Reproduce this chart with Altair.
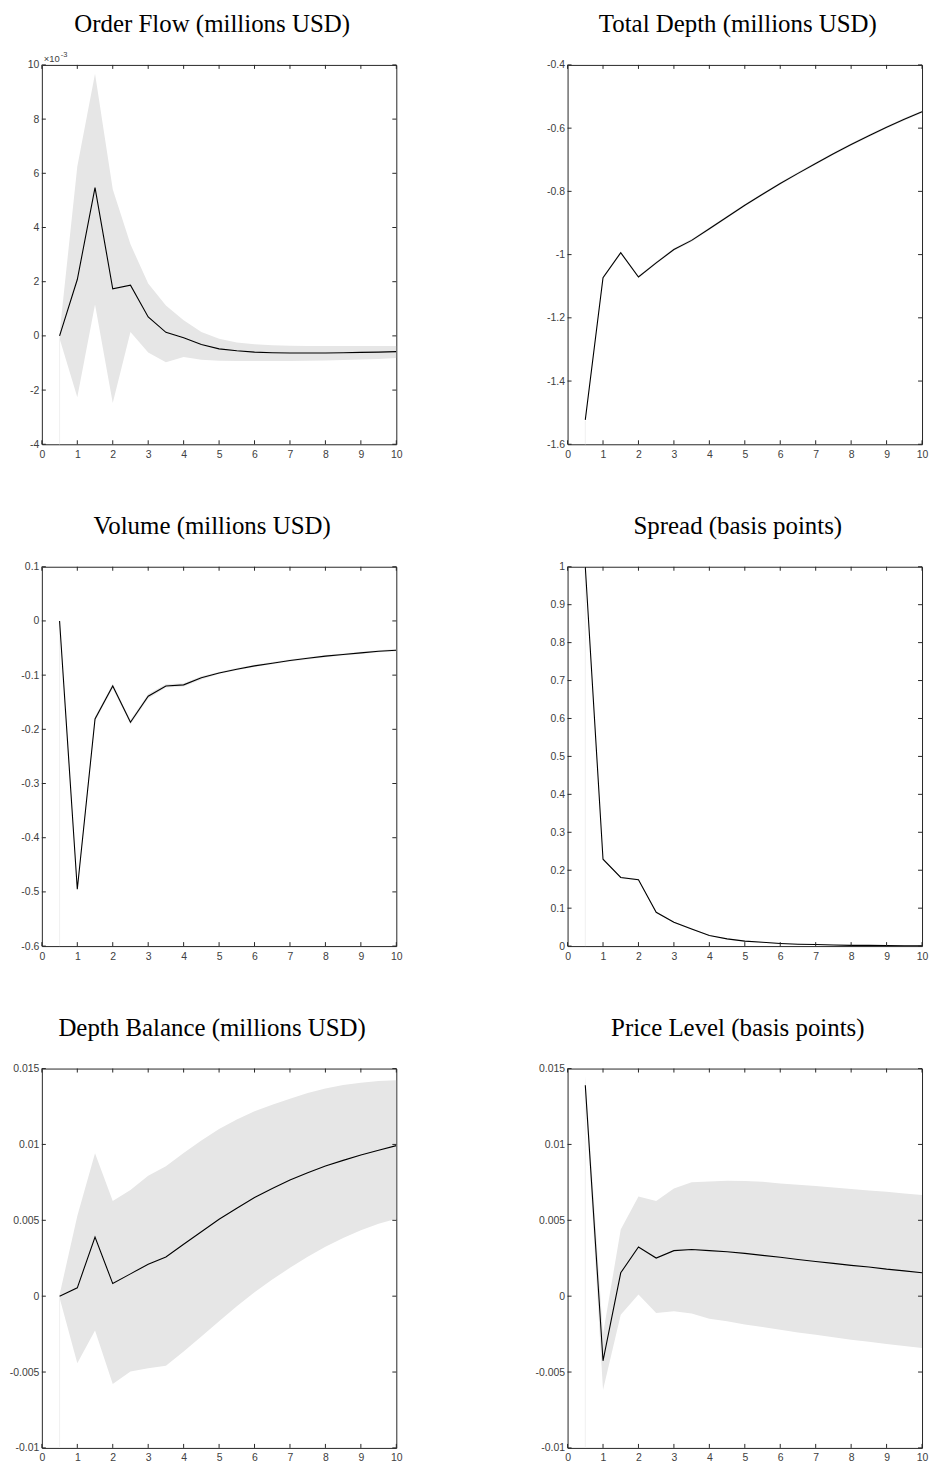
import altair as alt
import pandas as pd

# ---------------- data ----------------
h = [0.5, 1.0, 1.5, 2.0, 2.5, 3.0, 3.5, 4.0, 4.5, 5.0,
     5.5, 6.0, 6.5, 7.0, 7.5, 8.0, 8.5, 9.0, 9.5, 10.0]
x_ticks = [0, 1, 2, 3, 4, 5, 6, 7, 8, 9, 10]

titles = ["Order Flow (millions USD)", "Total Depth (millions USD)",
          "Volume (millions USD)", "Spread (basis points)",
          "Depth Balance (millions USD)", "Price Level (basis points)"]

of_mid = [0.0, 2.08e-3, 5.47e-3, 1.74e-3, 1.87e-3, 0.70e-3, 0.13e-3, -0.07e-3, -0.32e-3, -0.48e-3,
          -0.55e-3, -0.60e-3, -0.62e-3, -0.63e-3, -0.63e-3, -0.63e-3, -0.62e-3, -0.61e-3, -0.60e-3, -0.58e-3]
of_hi = [0.1e-3, 6.25e-3, 9.67e-3, 5.41e-3, 3.38e-3, 1.93e-3, 1.12e-3, 0.58e-3, 0.14e-3, -0.11e-3,
         -0.24e-3, -0.31e-3, -0.35e-3, -0.36e-3, -0.37e-3, -0.37e-3, -0.37e-3, -0.37e-3, -0.37e-3, -0.37e-3]
of_lo = [-0.1e-3, -2.26e-3, 1.16e-3, -2.48e-3, 0.14e-3, -0.61e-3, -0.97e-3, -0.78e-3, -0.88e-3, -0.92e-3,
         -0.93e-3, -0.93e-3, -0.93e-3, -0.93e-3, -0.92e-3, -0.91e-3, -0.89e-3, -0.87e-3, -0.85e-3, -0.82e-3]
of_ticks = [-0.004, -0.002, 0.0, 0.002, 0.004, 0.006, 0.008, 0.010]

td_mid = [-1.523, -1.073, -0.994, -1.071, -1.026, -0.984, -0.955, -0.918, -0.881, -0.844,
          -0.809, -0.775, -0.743, -0.712, -0.681, -0.652, -0.624, -0.597, -0.572, -0.548]
td_hi = [-1.520, -1.069, -0.990, -1.067, -1.022, -0.980, -0.951, -0.914, -0.877, -0.840,
         -0.805, -0.771, -0.739, -0.708, -0.677, -0.648, -0.620, -0.593, -0.568, -0.544]
td_lo = [-1.526, -1.077, -0.998, -1.075, -1.030, -0.988, -0.959, -0.922, -0.885, -0.848,
         -0.813, -0.779, -0.747, -0.716, -0.685, -0.656, -0.628, -0.601, -0.576, -0.552]
td_ticks = [-1.6, -1.4, -1.2, -1.0, -0.8, -0.6, -0.4]

vo_mid = [0.0, -0.495, -0.181, -0.120, -0.187, -0.139, -0.120, -0.118, -0.105, -0.096,
          -0.089, -0.083, -0.078, -0.073, -0.069, -0.065, -0.062, -0.059, -0.056, -0.054]
vo_hi = [0.001, -0.492, -0.177, -0.116, -0.183, -0.135, -0.117, -0.115, -0.102, -0.094,
         -0.087, -0.081, -0.076, -0.071, -0.067, -0.063, -0.060, -0.057, -0.054, -0.052]
vo_lo = [-0.001, -0.498, -0.185, -0.124, -0.191, -0.143, -0.123, -0.121, -0.108, -0.098,
         -0.091, -0.085, -0.080, -0.075, -0.071, -0.067, -0.064, -0.061, -0.058, -0.056]
vo_ticks = [-0.6, -0.5, -0.4, -0.3, -0.2, -0.1, 0.0, 0.1]

sp_mid = [1.0, 0.229, 0.181, 0.175, 0.089, 0.063, 0.045, 0.028, 0.019, 0.013,
          0.010, 0.007, 0.005, 0.004, 0.003, 0.002, 0.002, 0.0015, 0.001, 0.001]
sp_hi = [1.0, 0.231, 0.183, 0.177, 0.091, 0.065, 0.047, 0.029, 0.020, 0.014,
         0.011, 0.008, 0.006, 0.005, 0.004, 0.003, 0.003, 0.002, 0.002, 0.002]
sp_lo = [1.0, 0.227, 0.179, 0.173, 0.087, 0.061, 0.043, 0.027, 0.018, 0.012,
         0.009, 0.006, 0.004, 0.003, 0.002, 0.001, 0.001, 0.001, 0.0, 0.0]
sp_ticks = [0.0, 0.1, 0.2, 0.3, 0.4, 0.5, 0.6, 0.7, 0.8, 0.9, 1.0]

db_mid = [0.0, 0.00055, 0.0039, 0.00083, 0.00147, 0.00211, 0.00258, 0.00342, 0.00425, 0.00507,
          0.0058, 0.0065, 0.0071, 0.00765, 0.00814, 0.00858, 0.00895, 0.0093, 0.00962, 0.00992]
db_hi = [0.0001, 0.00529, 0.00942, 0.00628, 0.00699, 0.00794, 0.00856, 0.00944, 0.01026, 0.01101,
         0.01165, 0.01218, 0.01262, 0.01301, 0.01339, 0.01368, 0.01392, 0.01407, 0.01418, 0.01423]
db_lo = [-0.0001, -0.00442, -0.00226, -0.00579, -0.00497, -0.00475, -0.00459, -0.00365, -0.00265, -0.00166,
         -0.00067, 0.00026, 0.0011, 0.00187, 0.0026, 0.00326, 0.00383, 0.00434, 0.00478, 0.00511]
db_ticks = [-0.01, -0.005, 0.0, 0.005, 0.01, 0.015]

pl_mid = [0.0139, -0.00426, 0.00154, 0.00324, 0.00251, 0.0030, 0.00308, 0.0030, 0.00293, 0.00282,
          0.00269, 0.00256, 0.00242, 0.00229, 0.00216, 0.00203, 0.00192, 0.00178, 0.00167, 0.00154]
pl_hi = [0.0145, -0.0025, 0.0044, 0.00657, 0.00628, 0.0071, 0.0075, 0.00756, 0.0076, 0.00759,
         0.00754, 0.00743, 0.00734, 0.00726, 0.00717, 0.00706, 0.00697, 0.00688, 0.00677, 0.00666]
pl_lo = [0.0134, -0.00618, -0.00122, 0.00011, -0.00111, -0.001, -0.00115, -0.00148, -0.00166, -0.00186,
         -0.00203, -0.00221, -0.00239, -0.00254, -0.0027, -0.00287, -0.003, -0.00316, -0.00329, -0.00342]
pl_ticks = [-0.01, -0.005, 0.0, 0.005, 0.01, 0.015]

# ---------------- styling ----------------
W, H = 356, 381
AX = "#262626"
LABEL_FONT = "Liberation Sans"
TITLE_FONT = "Liberation Serif"
LABEL_SIZE = 10.5
STD_EXPR = "replace(format(datum.value, '~g'), '\u2212', '-')"
MILLI_EXPR = "replace(format(datum.value * 1000, 'd'), '\u2212', '-')"


def panel(title, mid, lo, hi, yticks, label_expr, exponent=False):
    df = pd.DataFrame({"h": h, "mid": mid, "lo": lo, "hi": hi})
    xs = alt.Scale(domain=[x_ticks[0], x_ticks[-1]], nice=False, zero=False)
    ys = alt.Scale(domain=[yticks[0], yticks[-1]], nice=False, zero=False)
    xax = alt.Axis(values=x_ticks, ticks=False, domain=False, grid=False, title=None,
                   labelPadding=5, labelFlush=False, labelOverlap=False,
                   labelFont=LABEL_FONT, labelFontSize=LABEL_SIZE, labelColor="#404040")
    yax = alt.Axis(values=yticks, labelExpr=label_expr, ticks=False, domain=False, grid=False,
                   title=None, labelPadding=3, labelFlush=False, labelOverlap=False,
                   labelFont=LABEL_FONT, labelFontSize=LABEL_SIZE, labelColor="#404040")

    def X(f):
        return alt.X(f, scale=xs, axis=xax, title=None)

    def Y(f):
        return alt.Y(f, scale=ys, axis=yax, title=None)

    base = alt.Chart(df)
    band = base.mark_area(color="#e6e6e6", opacity=1, clip=True).encode(
        x=X("h:Q"), y=Y("lo:Q"), y2="hi:Q")
    edge_df = pd.DataFrame({"h": [h[0]], "a": [yticks[0]], "b": [lo[0]]})
    edge = alt.Chart(edge_df).mark_rule(color="#f0f0f0", strokeWidth=1).encode(
        x=X("h:Q"), y=Y("a:Q"), y2="b:Q")
    line = base.mark_line(color="black", strokeWidth=1.1, clip=True).encode(
        x=X("h:Q"), y=Y("mid:Q"))
    xt = alt.Chart(pd.DataFrame({"h": x_ticks}))
    yt = alt.Chart(pd.DataFrame({"t": yticks}))
    tick_top = xt.mark_rule(color=AX, strokeWidth=1).encode(
        x=X("h:Q"), y=alt.value(0), y2=alt.value(4))
    tick_bot = xt.mark_rule(color=AX, strokeWidth=1).encode(
        x=X("h:Q"), y=alt.value(H - 4), y2=alt.value(H))
    tick_left = yt.mark_rule(color=AX, strokeWidth=1).encode(
        y=Y("t:Q"), x=alt.value(0), x2=alt.value(4))
    tick_right = yt.mark_rule(color=AX, strokeWidth=1).encode(
        y=Y("t:Q"), x=alt.value(W - 4), x2=alt.value(W))
    ttl = alt.Chart(pd.DataFrame({"t": [title]})).mark_text(
        font=TITLE_FONT, fontSize=25, color="black", align="center", baseline="middle"
    ).encode(x=alt.value(W / 2 - 7), y=alt.value(-41), text="t:N")
    layers = [band, edge, line, tick_top, tick_bot, tick_left, tick_right, ttl]
    if exponent:
        e1 = alt.Chart(pd.DataFrame({"t": ["\u00d710"]})).mark_text(
            font=LABEL_FONT, fontSize=9.5, color="#404040", align="left", baseline="alphabetic"
        ).encode(x=alt.value(2), y=alt.value(-3), text="t:N")
        e2 = alt.Chart(pd.DataFrame({"t": ["-3"]})).mark_text(
            font=LABEL_FONT, fontSize=7.5, color="#404040", align="left", baseline="alphabetic"
        ).encode(x=alt.value(19), y=alt.value(-8), text="t:N")
        layers += [e1, e2]
    return alt.layer(*layers).properties(width=W, height=H)


panels = [
    panel(titles[0], of_mid, of_lo, of_hi, of_ticks, MILLI_EXPR, exponent=True),
    panel(titles[1], td_mid, td_lo, td_hi, td_ticks, STD_EXPR),
    panel(titles[2], vo_mid, vo_lo, vo_hi, vo_ticks, STD_EXPR),
    panel(titles[3], sp_mid, sp_lo, sp_hi, sp_ticks, STD_EXPR),
    panel(titles[4], db_mid, db_lo, db_hi, db_ticks, STD_EXPR),
    panel(titles[5], pl_mid, pl_lo, pl_hi, pl_ticks, STD_EXPR),
]

chart = alt.concat(*panels, columns=2, spacing={"row": 53, "column": 131}).properties(
    padding={"left": 0, "top": 0, "right": 0, "bottom": 0}
).configure_view(
    stroke=AX, strokeWidth=1
)

chart.save("out.html", embed_options={"renderer": "svg", "actions": False})
